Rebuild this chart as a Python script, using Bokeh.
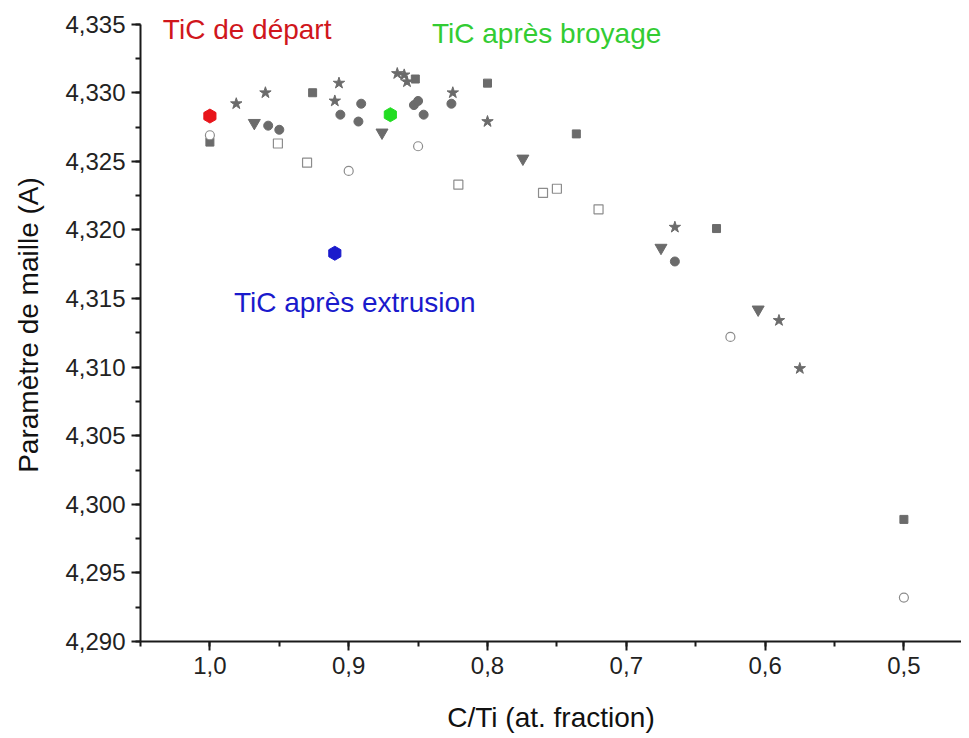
import numpy as np
from bokeh.plotting import figure
from bokeh.models import Range1d, SingleIntervalTicker, CustomJSTickFormatter, Label
from bokeh.embed import file_html
from bokeh.resources import INLINE

# ---- data ----
sq_filled_x = [1.000, 0.926, 0.852, 0.800, 0.736, 0.635, 0.500]
sq_filled_y = [4.3264, 4.3300, 4.3310, 4.3307, 4.3270, 4.3201, 4.2989]

sq_open_x = [0.951, 0.930, 0.821, 0.760, 0.750, 0.720]
sq_open_y = [4.3263, 4.3249, 4.3233, 4.3227, 4.3230, 4.3215]

circ_open_x = [1.000, 0.900, 0.850, 0.625, 0.500]
circ_open_y = [4.3269, 4.3243, 4.3261, 4.3122, 4.2932]

circ_filled_x = [0.958, 0.950, 0.906, 0.891, 0.893, 0.853, 0.850, 0.846, 0.826, 0.665]
circ_filled_y = [4.3276, 4.3273, 4.3284, 4.3292, 4.3279, 4.3291, 4.3294, 4.3284, 4.3292, 4.3177]

tri_x = [0.968, 0.876, 0.7745, 0.675, 0.605]
tri_y = [4.3278, 4.3271, 4.3252, 4.3187, 4.3142]

star_x = [0.981, 0.960, 0.907, 0.910, 0.865, 0.860, 0.858, 0.825, 0.800, 0.665, 0.590, 0.575]
star_y = [4.3292, 4.3300, 4.3307, 4.3294, 4.3314, 4.3313, 4.3308, 4.3300, 4.3279, 4.3202, 4.3134, 4.3099]

depart_x = [1.000]
depart_y = [4.3283]
broyage_x = [0.870]
broyage_y = [4.3284]
extrusion_x = [0.910]
extrusion_y = [4.3183]

FONT = "Liberation Sans"
GRAY = "#6b6b6b"

p = figure(width=961, height=735, output_backend="svg", toolbar_location=None,
           x_range=Range1d(1.05, 0.4585), y_range=Range1d(4.290, 4.33614),
           min_border_left=140, min_border_right=0, min_border_top=8, min_border_bottom=94)
p.outline_line_color = None
p.xgrid.visible = False
p.ygrid.visible = False
p.background_fill_color = "white"
p.border_fill_color = "white"

# markers
p.scatter(sq_filled_x, sq_filled_y, marker="square", size=8, fill_color=GRAY, line_color=GRAY)
p.scatter(sq_open_x, sq_open_y, marker="square", size=9, fill_color="white", line_color="#8c8c8c", line_width=1.2)
p.scatter(circ_open_x, circ_open_y, marker="circle", size=9, fill_color="white", line_color="#8c8c8c", line_width=1.2)
p.scatter(circ_filled_x, circ_filled_y, marker="circle", size=9, fill_color=GRAY, line_color=GRAY)
p.scatter(tri_x, tri_y, marker="inverted_triangle", size=12, fill_color=GRAY, line_color=GRAY)
p.scatter(star_x, star_y, marker="star", size=12, fill_color=GRAY, line_color=GRAY)
p.scatter(depart_x, depart_y, marker="hex", size=14, angle=np.pi / 6, fill_color="#e8141a", line_color="#e8141a")
p.scatter(broyage_x, broyage_y, marker="hex", size=14, angle=np.pi / 6, fill_color="#22dd22", line_color="#22dd22")
p.scatter(extrusion_x, extrusion_y, marker="hex", size=14, angle=np.pi / 6, fill_color="#1a1acc", line_color="#1a1acc")

# annotations
for txt, x, y, col in [("TiC de départ", 1.0339, 4.3346, "#d0161c"),
                        ("TiC après broyage", 0.840, 4.3343, "#33cc33"),
                        ("TiC après extrusion", 0.9827, 4.3147, "#1a1acc")]:
    p.add_layout(Label(x=x, y=y, text=txt, text_color=col, text_font=FONT,
                       text_font_size="28px", text_baseline="middle", text_align="left"))

# axes
p.xaxis.ticker = SingleIntervalTicker(interval=0.1, num_minor_ticks=2)
p.yaxis.ticker = SingleIntervalTicker(interval=0.005, num_minor_ticks=2)
p.xaxis.formatter = CustomJSTickFormatter(code="return tick.toFixed(1).replace('.', ',');")
p.yaxis.formatter = CustomJSTickFormatter(code="return tick.toFixed(3).replace('.', ',');")
p.xaxis.axis_label = "C/Ti (at. fraction)"
p.yaxis.axis_label = "Paramètre de maille (A)"
p.yaxis.bounds = (4.290, 4.335)
for ax in (p.xaxis, p.yaxis):
    ax.axis_line_width = 2
    ax.axis_line_color = "#1a1a1a"
    ax.major_tick_line_color = "#1a1a1a"
    ax.minor_tick_line_color = "#1a1a1a"
    ax.major_tick_line_width = 2
    ax.minor_tick_line_width = 2
    ax.major_tick_out = 9
    ax.major_tick_in = 0
    ax.minor_tick_out = 5
    ax.minor_tick_in = 0
    ax.major_label_text_font = FONT
    ax.major_label_text_font_size = "24px"
    ax.major_label_text_color = "#222222"
    ax.axis_label_text_font = FONT
    ax.axis_label_text_font_size = "28px"
    ax.axis_label_text_font_style = "normal"
    ax.axis_label_text_color = "#111111"
    ax.major_label_standoff = 6
p.xaxis.axis_label_standoff = 25
p.yaxis.axis_label_standoff = 18

open("out.html", "w").write(file_html(p, INLINE))
